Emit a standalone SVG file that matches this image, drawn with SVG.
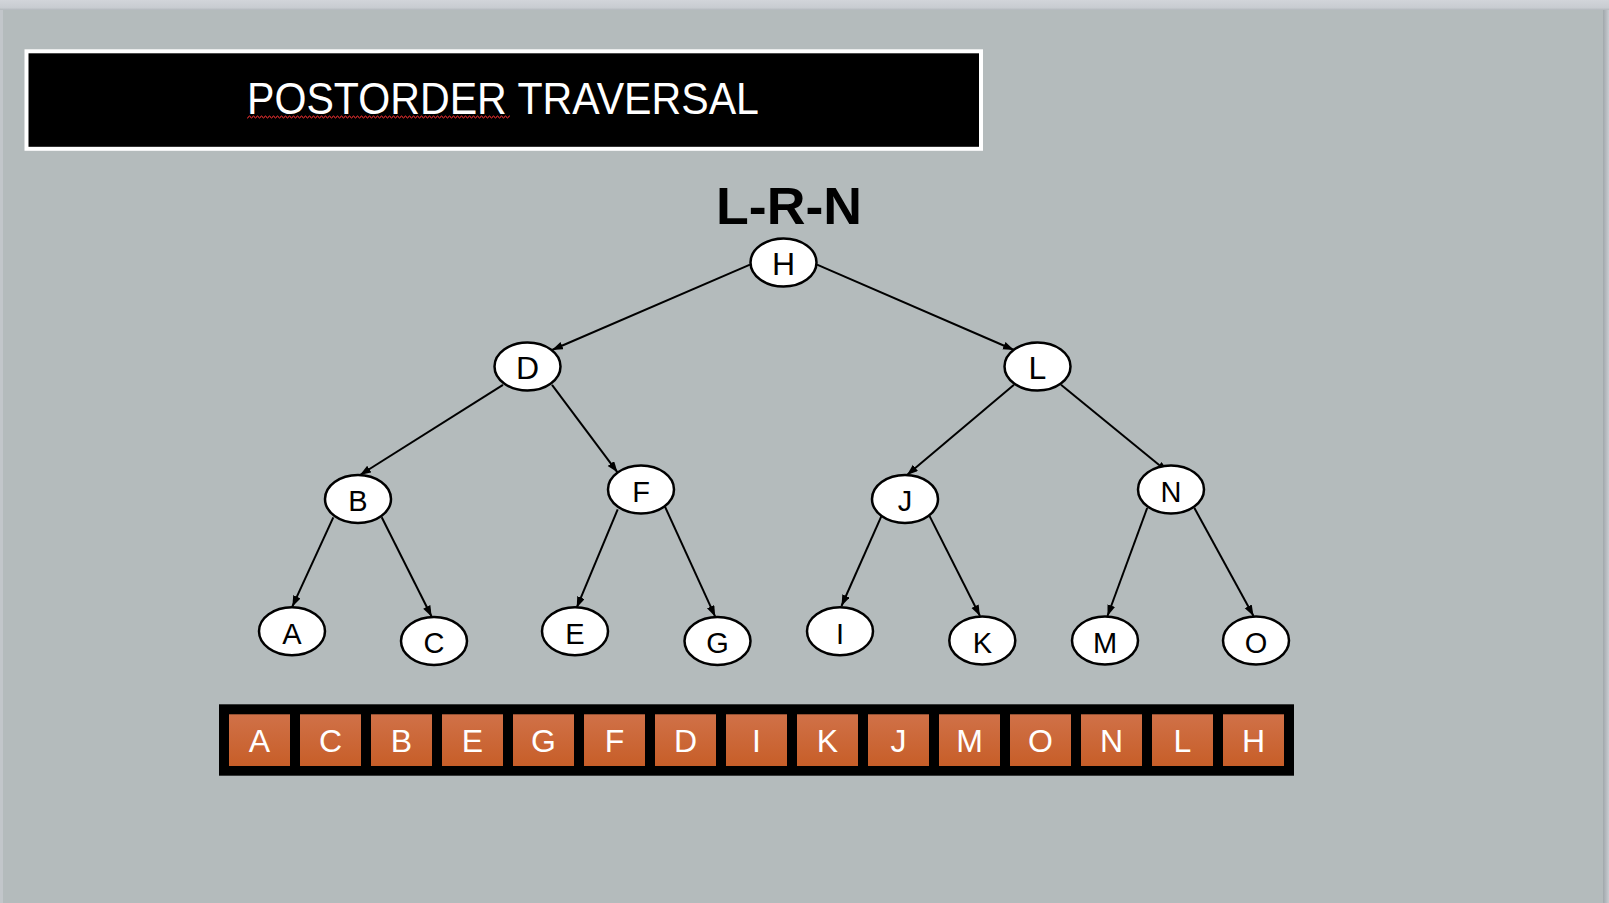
<svg xmlns="http://www.w3.org/2000/svg" width="1609" height="903" viewBox="0 0 1609 903">
  <defs>
    <marker id="arrow" markerUnits="userSpaceOnUse" markerWidth="12" markerHeight="9" refX="11" refY="4" orient="auto">
      <path d="M0,0 L11,4 L0,8 Z" fill="#000"/>
    </marker>
    <linearGradient id="cellGrad" x1="0" y1="0" x2="0" y2="1">
      <stop offset="0" stop-color="#d07148"/>
      <stop offset="1" stop-color="#c75e28"/>
    </linearGradient>
    <linearGradient id="topStrip" x1="0" y1="0" x2="0" y2="1">
      <stop offset="0" stop-color="#d2d5da"/>
      <stop offset="0.7" stop-color="#c8ccd1"/>
      <stop offset="1" stop-color="#a9afb3"/>
    </linearGradient>
    <linearGradient id="rightShadow" x1="0" y1="0" x2="1" y2="0">
      <stop offset="0" stop-color="#9aa1a5"/>
      <stop offset="1" stop-color="#c9ccd1"/>
    </linearGradient>
    <pattern id="squiggle" patternUnits="userSpaceOnUse" x="0" y="115" width="4" height="4">
      <path d="M0,3 L1,1 L2,1 L3,3 L4,3" fill="none" stroke="#d02a2a" stroke-width="1"/>
    </pattern>
    <style>
      .node ellipse { fill: #ffffff; stroke: #000000; stroke-width: 2.5; }
      .node text { font-family: "Liberation Sans", Arial, sans-serif; font-size: 29px; fill: #000; text-anchor: middle; }
      .node.big text { font-size: 32px; }
      .edge { stroke: #000; stroke-width: 2; fill: none; marker-end: url(#arrow); }
      .cell rect { fill: url(#cellGrad); }
      .cell text { font-family: "Liberation Sans", Arial, sans-serif; font-size: 32px; fill: #ffffff; text-anchor: middle; }
    </style>
  </defs>

  <!-- background -->
  <rect x="0" y="0" width="1609" height="903" fill="#cdd0d5"/>
  <rect x="0" y="0" width="1609" height="11" fill="url(#topStrip)"/>
  <rect x="1602" y="10" width="7" height="893" fill="url(#rightShadow)"/>
  <rect x="0" y="10" width="3" height="893" fill="#c2c6ca"/>
  <rect x="3" y="10" width="1600" height="893" fill="#b4bbbc"/>

  <!-- title -->
  <g id="title">
    <rect x="26.5" y="51.3" width="954.5" height="97.5" fill="#000" stroke="#ffffff" stroke-width="4"/>
    <text x="247" y="114" font-family="Liberation Sans, Arial, sans-serif" font-size="44" fill="#ffffff" textLength="512" lengthAdjust="spacingAndGlyphs">POSTORDER TRAVERSAL</text>
    <rect x="247" y="115" width="263" height="4" fill="url(#squiggle)"/>
  </g>

  <g id="subtitle">
    <text x="716" y="224" font-family="Liberation Sans, Arial, sans-serif" font-size="51" font-weight="bold" fill="#000" textLength="146" lengthAdjust="spacingAndGlyphs">L-R-N</text>
  </g>

  <!-- connectors -->
  <g id="connectors">
    <line class="edge" x1="750" y1="264.7" x2="552" y2="350"/>
    <line class="edge" x1="817" y1="264.7" x2="1014" y2="350"/>
    <line class="edge" x1="503" y1="384.8" x2="360" y2="475"/>
    <line class="edge" x1="552" y1="384.8" x2="617.5" y2="472.3"/>
    <line class="edge" x1="333.3" y1="517.3" x2="292.3" y2="606.7"/>
    <line class="edge" x1="381.7" y1="517.3" x2="431.7" y2="616.7"/>
    <line class="edge" x1="617.7" y1="509.3" x2="576.7" y2="607.7"/>
    <line class="edge" x1="665" y1="506.7" x2="715.2" y2="616.7"/>
    <line class="edge" x1="1014" y1="384.8" x2="907" y2="475"/>
    <line class="edge" x1="1061" y1="384.8" x2="1167.7" y2="472"/>
    <line class="edge" x1="881.4" y1="516.1" x2="841.5" y2="606"/>
    <line class="edge" x1="929.6" y1="516.1" x2="980" y2="616"/>
    <line class="edge" x1="1147.2" y1="508" x2="1107.5" y2="616"/>
    <line class="edge" x1="1194.4" y1="508" x2="1253.5" y2="616"/>
  </g>

  <!-- nodes -->
  <g id="node-H" class="node big"><ellipse cx="783.5" cy="262.5" rx="33" ry="24"/><text x="783.5" y="275">H</text></g>
  <g id="node-D" class="node big"><ellipse cx="527.5" cy="366.5" rx="33" ry="24"/><text x="527.5" y="379">D</text></g>
  <g id="node-L" class="node big"><ellipse cx="1037.5" cy="366.5" rx="33" ry="24"/><text x="1037.5" y="379">L</text></g>
  <g id="node-B" class="node"><ellipse cx="358" cy="499" rx="33" ry="24"/><text x="358" y="511">B</text></g>
  <g id="node-F" class="node"><ellipse cx="641" cy="489.5" rx="33" ry="24"/><text x="641" y="501.5">F</text></g>
  <g id="node-J" class="node"><ellipse cx="905" cy="499" rx="33" ry="24"/><text x="905" y="511">J</text></g>
  <g id="node-N" class="node"><ellipse cx="1171" cy="489.5" rx="33" ry="24"/><text x="1171" y="501.5">N</text></g>
  <g id="node-A" class="node"><ellipse cx="292" cy="631.3" rx="33" ry="24"/><text x="292" y="643.5">A</text></g>
  <g id="node-C" class="node"><ellipse cx="434" cy="641" rx="33" ry="24"/><text x="434" y="653">C</text></g>
  <g id="node-E" class="node"><ellipse cx="575" cy="631.3" rx="33" ry="24"/><text x="575" y="643.5">E</text></g>
  <g id="node-G" class="node"><ellipse cx="717.5" cy="641" rx="33" ry="24"/><text x="717.5" y="653">G</text></g>
  <g id="node-I" class="node"><ellipse cx="840" cy="631.3" rx="33" ry="24"/><text x="840" y="643.5">I</text></g>
  <g id="node-K" class="node"><ellipse cx="982.3" cy="640.5" rx="33" ry="24"/><text x="982.3" y="652.5">K</text></g>
  <g id="node-M" class="node"><ellipse cx="1105" cy="640.5" rx="33" ry="24"/><text x="1105" y="652.5">M</text></g>
  <g id="node-O" class="node"><ellipse cx="1256" cy="640.5" rx="33" ry="24"/><text x="1256" y="652.5">O</text></g>

  <!-- result array -->
  <g id="result">
    <rect x="219" y="704.3" width="1075" height="71.4" fill="#000"/>
    <g class="cell"><rect x="229" y="714.3" width="61" height="51.7"/><text x="259.5" y="751.7">A</text></g>
    <g class="cell"><rect x="300" y="714.3" width="61" height="51.7"/><text x="330.5" y="751.7">C</text></g>
    <g class="cell"><rect x="371" y="714.3" width="61" height="51.7"/><text x="401.5" y="751.7">B</text></g>
    <g class="cell"><rect x="442" y="714.3" width="61" height="51.7"/><text x="472.5" y="751.7">E</text></g>
    <g class="cell"><rect x="513" y="714.3" width="61" height="51.7"/><text x="543.5" y="751.7">G</text></g>
    <g class="cell"><rect x="584" y="714.3" width="61" height="51.7"/><text x="614.5" y="751.7">F</text></g>
    <g class="cell"><rect x="655" y="714.3" width="61" height="51.7"/><text x="685.5" y="751.7">D</text></g>
    <g class="cell"><rect x="726" y="714.3" width="61" height="51.7"/><text x="756.5" y="751.7">I</text></g>
    <g class="cell"><rect x="797" y="714.3" width="61" height="51.7"/><text x="827.5" y="751.7">K</text></g>
    <g class="cell"><rect x="868" y="714.3" width="61" height="51.7"/><text x="898.5" y="751.7">J</text></g>
    <g class="cell"><rect x="939" y="714.3" width="61" height="51.7"/><text x="969.5" y="751.7">M</text></g>
    <g class="cell"><rect x="1010" y="714.3" width="61" height="51.7"/><text x="1040.5" y="751.7">O</text></g>
    <g class="cell"><rect x="1081" y="714.3" width="61" height="51.7"/><text x="1111.5" y="751.7">N</text></g>
    <g class="cell"><rect x="1152" y="714.3" width="61" height="51.7"/><text x="1182.5" y="751.7">L</text></g>
    <g class="cell"><rect x="1223" y="714.3" width="61" height="51.7"/><text x="1253.5" y="751.7">H</text></g>
  </g>
</svg>
